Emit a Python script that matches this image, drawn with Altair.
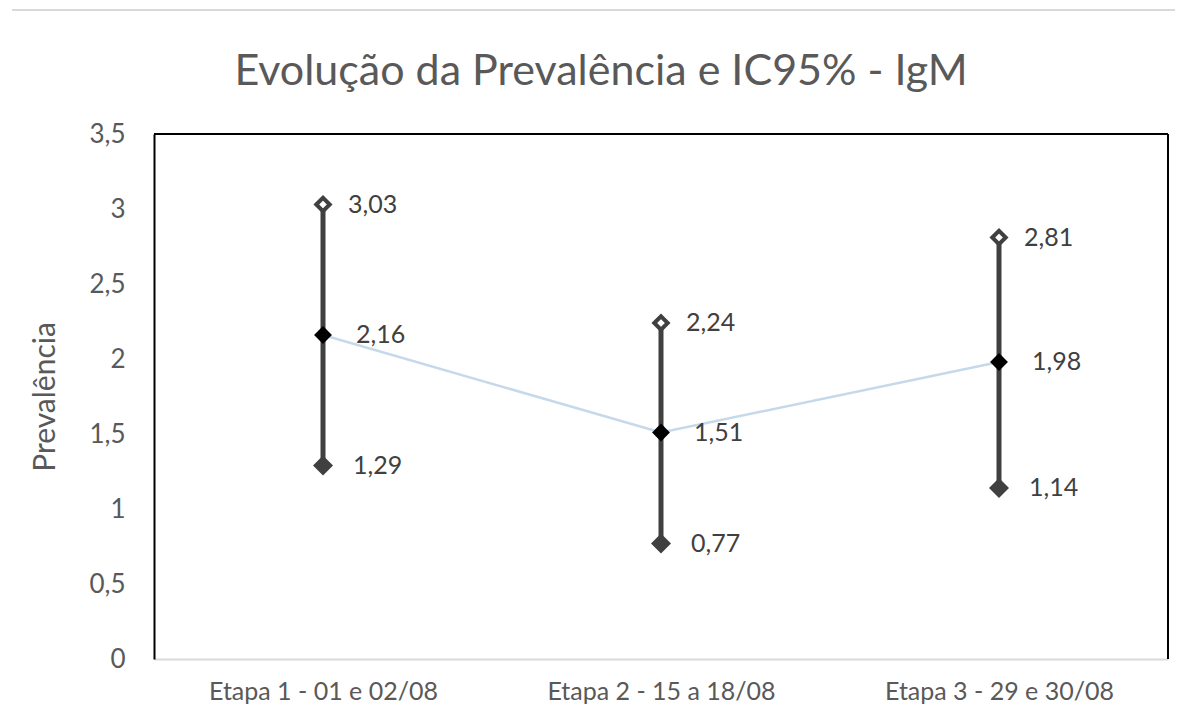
import altair as alt
import pandas as pd

categories = ["Etapa 1 - 01 e 02/08", "Etapa 2 - 15 a 18/08", "Etapa 3 - 29 e 30/08"]
prevalence = [2.16, 1.51, 1.98]
ci_lower = [1.29, 0.77, 1.14]
ci_upper = [3.03, 2.24, 2.81]
y_ticks = [0, 0.5, 1, 1.5, 2, 2.5, 3, 3.5]
title_text = "Evolução da Prevalência e IC95% - IgM"

df = pd.DataFrame({"etapa": categories, "prev": prevalence, "lo": ci_lower, "hi": ci_upper})
one = pd.DataFrame({"k": [0]})

W, H = 1014, 525
FONT = "Lato"
GRAY = "#595959"

xs = alt.Scale(type="point", padding=0.5, domain=categories)
ys = alt.Scale(domain=[0, 3.5], nice=False, zero=False)

x_enc = alt.X("etapa:N", scale=xs, sort=categories,
              axis=alt.Axis(title=None, ticks=False, domainColor="#d9d9d9", domainWidth=2,
                            labelFontSize=25, labelColor=GRAY, labelFont=FONT, labelPadding=20,
                            labelAngle=0, labelLimit=0))
y_axis = alt.Axis(values=y_ticks, grid=False, ticks=False, domainColor="black", domainWidth=2,
                  labelExpr="replace(toString(datum.value), '.', ',')", labelFontSize=26,
                  labelColor=GRAY, labelFont=FONT, labelPadding=29, title="Prevalência",
                  titleFontSize=30, titleFontWeight="normal", titleColor=GRAY, titleFont=FONT,
                  titlePadding=28)

base = alt.Chart(df)

line = base.mark_line(color="#c6d9ea", strokeWidth=2.5).encode(
    x=x_enc, y=alt.Y("prev:Q", scale=ys, axis=y_axis))

bars = base.mark_rule(color="#404040", strokeWidth=5).encode(
    x=alt.X("etapa:N", scale=xs, sort=categories), y=alt.Y("lo:Q", scale=ys), y2="hi:Q")

upper_pt = base.mark_point(shape="diamond", size=180, filled=True, fill="white",
                           stroke="#404040", strokeWidth=4, opacity=1).encode(
    x=alt.X("etapa:N", scale=xs, sort=categories), y=alt.Y("hi:Q", scale=ys))
lower_pt = base.mark_point(shape="diamond", size=400, filled=True, color="#404040", opacity=1).encode(
    x=alt.X("etapa:N", scale=xs, sort=categories), y=alt.Y("lo:Q", scale=ys))
mean_pt = base.mark_point(shape="diamond", size=320, filled=True, color="black", opacity=1).encode(
    x=alt.X("etapa:N", scale=xs, sort=categories), y=alt.Y("prev:Q", scale=ys))

def label_layer(field, dx):
    return base.transform_calculate(
        lab=f"replace(format(datum.{field}, '.2f'), '.', ',')"
    ).mark_text(align="left", baseline="middle", dx=dx, fontSize=25, font=FONT, color="#404040").encode(
        x=alt.X("etapa:N", scale=xs, sort=categories), y=alt.Y(f"{field}:Q", scale=ys), text="lab:N")

top_border = alt.Chart(one).mark_rule(color="black", strokeWidth=2).encode(
    x=alt.value(0), x2=alt.value(W), y=alt.value(0))
right_border = alt.Chart(one).mark_rule(color="black", strokeWidth=2).encode(
    x=alt.value(W), y=alt.value(0), y2=alt.value(H))
page_line = alt.Chart(one).mark_rule(color="#d9d9d9", strokeWidth=2).encode(
    x=alt.value(-142), x2=alt.value(1021), y=alt.value(-124))

title = alt.Chart(one).mark_text(align="center", baseline="alphabetic", fontSize=43, font=FONT,
                                 color=GRAY, text=title_text).encode(
    x=alt.value(447), y=alt.value(-49))

chart = alt.layer(
    line, bars, upper_pt, lower_pt, mean_pt,
    label_layer("hi", 25), label_layer("prev", 33), label_layer("lo", 30),
    top_border, right_border, page_line, title
).properties(
    width=W, height=H,
    autosize=alt.AutoSizeParams(type="none"),
    padding={"left": 146, "top": 126, "right": 10, "bottom": 50},
).configure_view(stroke=None)

chart.save("out.html", embed_options={"renderer": "svg", "actions": False})
